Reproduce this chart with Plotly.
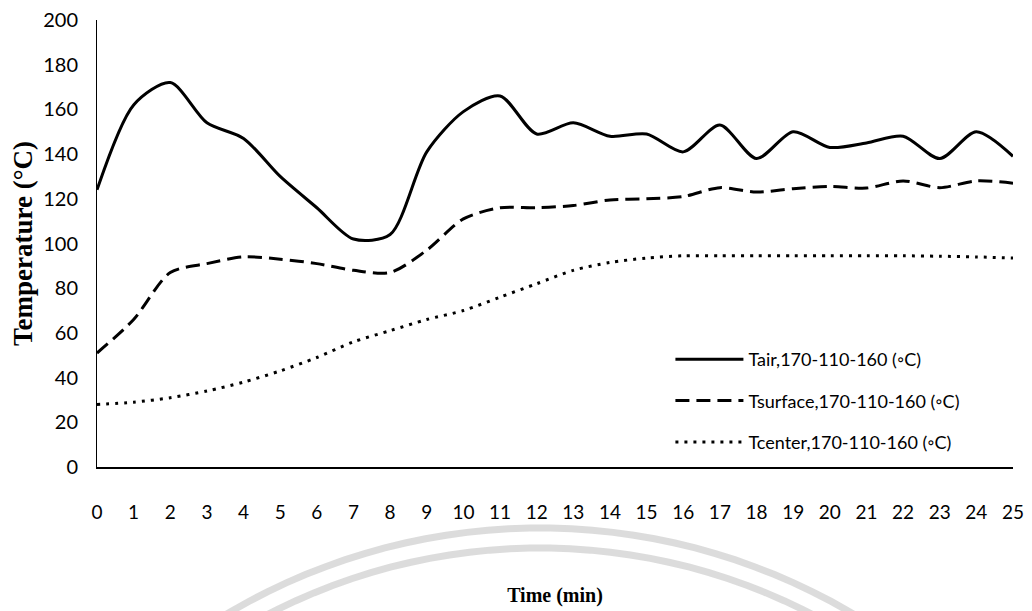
import numpy as np
import plotly.graph_objects as go

time_min = list(range(0, 26))
t_air = [124, 162, 172, 154, 147, 130, 116, 102, 104, 141, 159, 166, 149, 154, 148,
         149, 141, 153, 138, 150, 143, 145, 148, 138, 150, 139]
t_surface = [51, 66, 87, 91, 94, 93, 91, 88, 87, 97, 111, 116, 116, 117, 119.5,
             120, 121, 125, 123, 124.5, 125.5, 124.8, 128, 125, 128, 127]
t_center = [28, 29, 31, 34, 38, 43, 49, 56, 61, 66, 70, 76, 82, 88, 91.5,
            93.5, 94.5, 94.5, 94.5, 94.5, 94.5, 94.5, 94.5, 94.3, 94, 93.5]
y_ticks = list(range(0, 201, 20))

names = ["Tair,170-110-160 (◦C)", "Tsurface,170-110-160 (◦C)", "Tcenter,170-110-160 (◦C)"]
series = [t_air, t_surface, t_center]
dashes = ["solid", "14px,7px", "3px,6px"]

W, H = 1032, 611
ML, MR, MT, MB = 97, 19, 20, 144
PW, PH = W - ML - MR, H - MT - MB

fig = go.Figure()
for i, (nm, ys, d) in enumerate(zip(names, series, dashes)):
    fig.add_trace(go.Scatter(
        x=time_min, y=ys, mode="lines", name=nm, legendgroup=f"g{i}",
        line=dict(color="black", width=3, dash=d, shape="spline", smoothing=0.8),
    ))

# faint scanned watermark arcs (decoration, in paper coordinates)
def arc_path(cx, cy, r):
    ang = np.linspace(np.pi * 1.18, np.pi * 1.82, 60)
    px = cx + r * np.cos(ang)
    py = cy + r * np.sin(ang)
    xs = (px - ML) / PW
    ys = (H - MB - py) / PH
    pts = [f"{x:.4f},{y:.4f}" for x, y in zip(xs, ys)]
    return "M " + " L ".join(pts)

shapes = []
for r, top in [(614, 528), (592, 548)]:
    shapes.append(dict(type="path", xref="paper", yref="paper", layer="below",
                       path=arc_path(540, top + r, r),
                       line=dict(color="rgba(205,205,205,0.7)", width=7)))

fig.update_layout(
    width=W, height=H,
    margin=dict(l=ML, r=MR, t=MT, b=MB, autoexpand=False),
    paper_bgcolor="white", plot_bgcolor="rgba(0,0,0,0)",
    showlegend=True,
    shapes=shapes,
    legend=dict(x=0.626, y=0.282, xanchor="left", yanchor="top",
                font=dict(family="Lato", size=18, color="black"),
                traceorder="grouped", tracegroupgap=15, itemwidth=68,
                bgcolor="rgba(0,0,0,0)"),
    xaxis=dict(range=[0, 25], tickvals=time_min, ticks="", showgrid=False,
               zeroline=False, showline=True, linecolor="black", linewidth=2,
               automargin=False,
               tickfont=dict(family="Lato", size=19, color="black"),
               ticklabelstandoff=27,
               title=dict(text="<b>Time (min)</b>", standoff=66,
                          font=dict(family="Liberation Serif", size=20, color="black"))),
    yaxis=dict(range=[0, 200], tickvals=y_ticks, ticks="", showgrid=False,
               zeroline=False, showline=True, linecolor="black", linewidth=1,
               automargin=False,
               tickfont=dict(family="Lato", size=20, color="black"),
               ticklabelstandoff=14,
               title=dict(text="<b>Temperature (°C)</b>", standoff=2,
                          font=dict(family="Liberation Serif", size=27, color="black"))),
)

fig.write_html("out.html", config={"displayModeBar": False},
               post_script="document.body.style.margin='0px';")
